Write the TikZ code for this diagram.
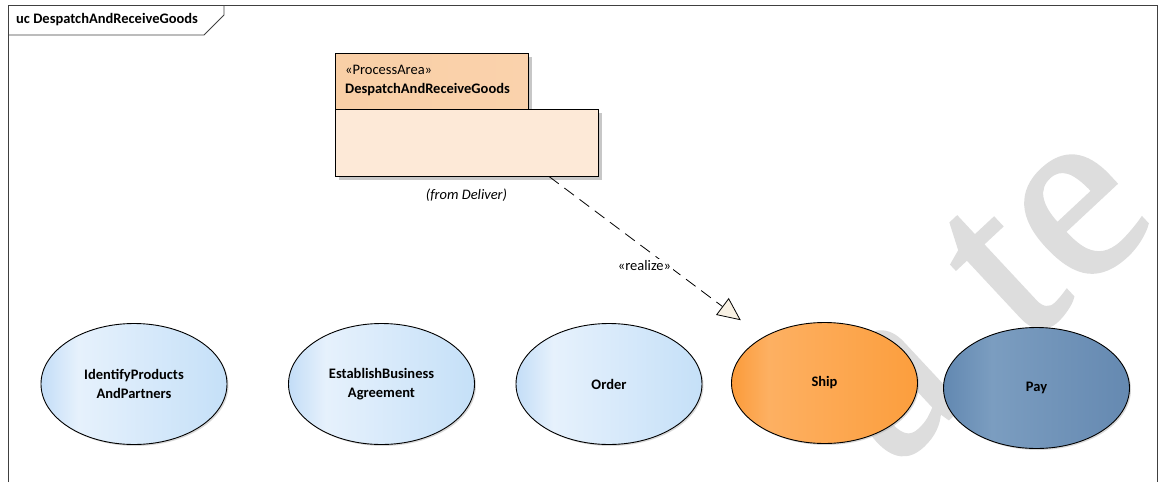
\documentclass[tikz,border=0pt]{standalone}
\usepackage{fontspec}
\setmainfont{Carlito}
\newfontfamily\wmfont[FakeBold=1.5]{Liberation Serif}
\usepackage{xcolor}
\usetikzlibrary{shapes.geometric,arrows.meta,positioning,fit,shadows}

\definecolor{pkgfill}{HTML}{FDE9D7}
\definecolor{pkgtabl}{HTML}{F9CFA6}
\definecolor{pkgtabm}{HTML}{FDE5CF}
\definecolor{pkgtabr}{HTML}{FAD2AC}
\definecolor{tipfill}{HTML}{F8F1E4}
\definecolor{wmgray}{HTML}{DDDDDD}
\definecolor{blueA}{HTML}{C3DDF7}
\definecolor{blueB}{HTML}{E6F1FC}
\definecolor{blueC}{HTML}{C5E0F8}
\definecolor{orangeA}{HTML}{FB9B3A}
\definecolor{orangeB}{HTML}{FDB062}
\definecolor{orangeC}{HTML}{FC9E3D}
\definecolor{steelA}{HTML}{6288B1}
\definecolor{steelB}{HTML}{7B9DC0}
\definecolor{steelC}{HTML}{6589B1}

\pgfdeclarehorizontalshading{ucblue}{100bp}{color(0bp)=(blueA); color(25bp)=(blueA); color(35bp)=(blueB); color(75bp)=(blueC); color(100bp)=(blueC)}
\pgfdeclarehorizontalshading{ucorange}{100bp}{color(0bp)=(orangeA); color(25bp)=(orangeA); color(35bp)=(orangeB); color(75bp)=(orangeC); color(100bp)=(orangeC)}
\pgfdeclarehorizontalshading{ucsteel}{100bp}{color(0bp)=(steelA); color(25bp)=(steelA); color(38bp)=(steelB); color(75bp)=(steelC); color(100bp)=(steelC)}

\newcommand{\ucfont}{\fontsize{14.5}{19}\selectfont}

\tikzset{
    frame/.style={draw=black!75, line width=0.8pt},
    pkgbox/.style={draw=black, line width=0.8pt, inner sep=0pt, drop shadow={shadow xshift=4pt, shadow yshift=-4pt, fill=black!22, opacity=1}},
    usecase/.style={ellipse, draw=black, line width=0.9pt, minimum width=186pt, minimum height=121pt, inner sep=0pt, align=center, font=\ucfont\bfseries, drop shadow={shadow xshift=1.5pt, shadow yshift=-1.5pt, fill=black!30, opacity=0.5}},
    bluecase/.style={usecase, shading=ucblue},
    orangecase/.style={usecase, shading=ucorange},
    steelcase/.style={usecase, shading=ucsteel},
    realizes/.style={draw=black, line width=0.8pt, dash pattern=on 12pt off 7pt, -{Triangle[length=23pt, width=21pt, fill=tipfill]}, shorten >=28pt}
}

\begin{document}
\begin{tikzpicture}[x=1pt, y=-1pt, every node/.append style={font=\ucfont}]
    \useasboundingbox (0,0) rectangle (1162,482);

    % Watermark
    \node[anchor=base west, rotate=43, text=wmgray, font=\wmfont\fontsize{250}{250}\selectfont, inner sep=0pt] (mark) at (893,470) {a\kern70pt t\kern5pt e};

    % Frame
    \draw[frame] (8,482) -- (8,5) -- (1157,5) -- (1157,482);
    \draw[frame] (8,35) -- (204,35) -- (224,15) -- (224,5);
    \node[anchor=west, font=\ucfont\bfseries, inner sep=0pt] (title) at (16,20) {uc DespatchAndReceiveGoods};

    % Package
    \node[pkgbox, left color=pkgtabl, middle color=pkgtabm, right color=pkgtabr, minimum width=193pt, minimum height=56pt] (pkgtab) at (431.5,81) {};
    \node[pkgbox, fill=pkgfill, minimum width=263pt, minimum height=67pt] (pkgbody) at (466.5,142.5) {};
    \node[fit=(pkgtab)(pkgbody), inner sep=0pt] (pkg) {};
    \node[anchor=west, inner sep=0pt] (stereo) at (345,70) {«ProcessArea»};
    \node[anchor=west, font=\ucfont\bfseries, inner sep=0pt] (pkgname) at (345,90) {DespatchAndReceiveGoods};
    \node[font=\ucfont\itshape] (from) at (466.5,195) {(from Deliver)};

    % Use cases
    \node[bluecase] (identify) at (134,384) {IdentifyProducts\\AndPartners};
    \node[bluecase] (establish) at (381.5,384) {EstablishBusiness\\Agreement};
    \node[bluecase] (order) at (609,384) {Order};
    \node[orangecase] (ship) at (824.5,383) {Ship};
    \node[steelcase] (pay) at (1036.5,388) {Pay};

    % Realization
    \draw[realizes] (pkg) -- (ship);
    \node[fill=white, inner sep=2pt] (realize) at (644.5,266) {«realize»};
\end{tikzpicture}
\end{document}
